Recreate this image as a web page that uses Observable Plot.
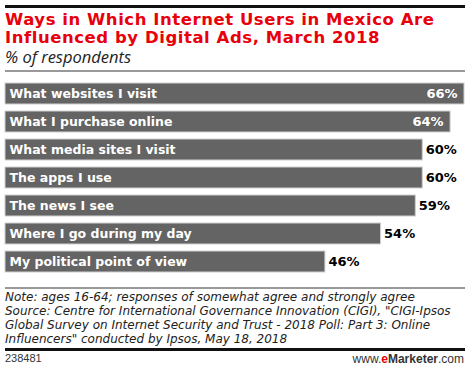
<!DOCTYPE html>
<html>
<head>
<meta charset="utf-8">
<script src="https://cdn.jsdelivr.net/npm/d3@7"></script>
<script src="https://cdn.jsdelivr.net/npm/@observablehq/plot@0.6"></script>
<style>
  body { margin: 0; background: #fff; }
  #wrap { position: relative; width: 470px; height: 371px; overflow: hidden; font-family: "Open Sans", "DejaVu Sans", sans-serif; }
  .rule { position: absolute; left: 5px; width: 460px; }
  #title { position: absolute; left: 5px; top: 11px; color: #e8000b; font: bold 16.5px/18px "DejaVu Sans", sans-serif; letter-spacing: 0.55px; }
  #subtitle { position: absolute; left: 5px; top: 48px; color: #222; font: italic 16.5px/17px "Open Sans", sans-serif; }
  #chart { position: absolute; left: 0; top: 70px; }
  #note { position: absolute; left: 5px; top: 290px; color: #222; font: oblique 12px/14px "DejaVu Sans", sans-serif; }
  #id { position: absolute; left: 5px; top: 352px; color: #333; font: 11px "Liberation Sans", sans-serif; }
  #brand { position: absolute; right: 6px; top: 352px; color: #333; font: 12px "Liberation Sans", sans-serif; }
  #brand b { color: #e8000b; }
</style>
</head>
<body>
<div id="wrap">
  <div class="rule" style="top:5px;height:2.5px;background:#111"></div>
  <div id="title">Ways in Which Internet Users in Mexico Are<br>Influenced by Digital Ads, March 2018</div>
  <div id="subtitle">% of respondents</div>
  <div class="rule" style="top:70px;height:1.5px;background:#999"></div>
  <div id="chart"></div>
  <div class="rule" style="top:287px;height:1.5px;background:#999"></div>
  <div id="note">Note: ages 16-64; responses of somewhat agree and strongly agree<br>Source: Centre for International Governance Innovation (CIGI), "CIGI-Ipsos<br>Global Survey on Internet Security and Trust - 2018 Poll: Part 3: Online<br>Influencers" conducted by Ipsos, May 18, 2018</div>
  <div class="rule" style="top:348px;height:2.5px;background:#111"></div>
  <div id="id">238481</div>
  <div id="brand">www.<b>e</b><span style="font-weight:bold">Marketer</span>.com</div>
</div>
<script>
const categories = [
  "What websites I visit",
  "What I purchase online",
  "What media sites I visit",
  "The apps I use",
  "The news I see",
  "Where I go during my day",
  "My political point of view"
];
const values = [66, 64, 60, 60, 59, 54, 46];

const data = categories.map((c, i) => ({category: c, value: values[i], inside: values[i] >= 62}));

const chart = Plot.plot({
  width: 470,
  height: 215,
  marginLeft: 5,
  marginRight: 6,
  marginTop: 0,
  marginBottom: 0,
  x: {domain: [0, 66], range: [5, 464], axis: null},
  y: {domain: categories, range: [8.3, 206.6], paddingInner: 0.25, paddingOuter: 0.125, axis: null},
  style: {fontFamily: "DejaVu Sans, sans-serif"},
  marks: [
    Plot.barX(data, {x: "value", y: "category", fill: "#646464", stroke: "#d0d0d0", strokeWidth: 1}),
    Plot.text(data, {x: 0, y: "category", text: "category", textAnchor: "start", dx: 4, fill: "#fff", fontWeight: "bold", fontSize: 12.5}),
    Plot.text(data.filter(d => d.inside), {x: "value", y: "category", text: d => d.value + "%", textAnchor: "end", dx: -7, fill: "#fff", fontWeight: "bold", fontSize: 13}),
    Plot.text(data.filter(d => !d.inside), {x: "value", y: "category", text: d => d.value + "%", textAnchor: "start", dx: 3, fill: "#000", fontWeight: "bold", fontSize: 13})
  ]
});
document.getElementById("chart").appendChild(chart);
</script>
</body>
</html>
